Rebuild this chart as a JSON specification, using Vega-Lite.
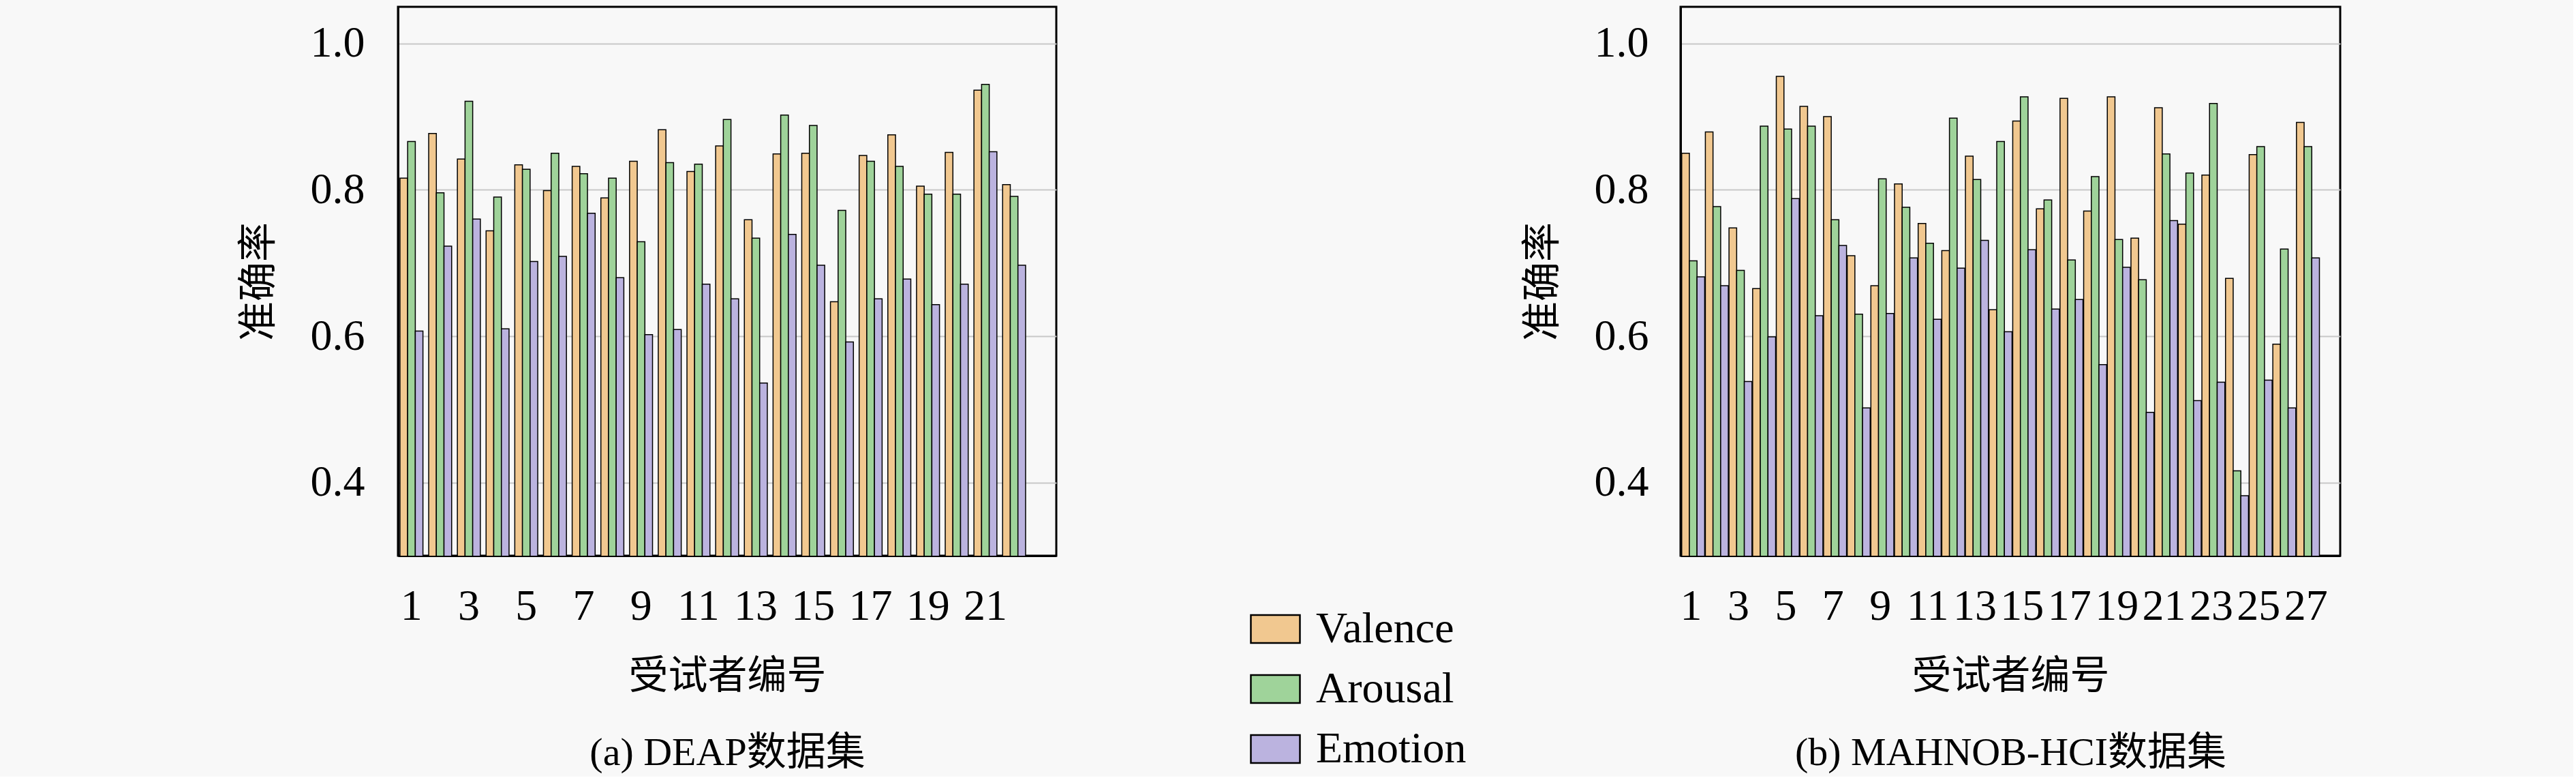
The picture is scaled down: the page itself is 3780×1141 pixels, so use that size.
{
  "$schema": "https://vega.github.io/schema/vega-lite/v6.json",
  "background": "#f8f8f8",
  "padding": {"left": 349, "top": 8, "right": 340, "bottom": 4},
  "spacing": 681,
  "data": {
    "values": [
      {"panel": "a", "subject": 1, "series": "Valence", "value": 0.816},
      {"panel": "a", "subject": 1, "series": "Arousal", "value": 0.866},
      {"panel": "a", "subject": 1, "series": "Emotion", "value": 0.607},
      {"panel": "a", "subject": 2, "series": "Valence", "value": 0.877},
      {"panel": "a", "subject": 2, "series": "Arousal", "value": 0.796},
      {"panel": "a", "subject": 2, "series": "Emotion", "value": 0.723},
      {"panel": "a", "subject": 3, "series": "Valence", "value": 0.842},
      {"panel": "a", "subject": 3, "series": "Arousal", "value": 0.921},
      {"panel": "a", "subject": 3, "series": "Emotion", "value": 0.760},
      {"panel": "a", "subject": 4, "series": "Valence", "value": 0.744},
      {"panel": "a", "subject": 4, "series": "Arousal", "value": 0.790},
      {"panel": "a", "subject": 4, "series": "Emotion", "value": 0.610},
      {"panel": "a", "subject": 5, "series": "Valence", "value": 0.834},
      {"panel": "a", "subject": 5, "series": "Arousal", "value": 0.828},
      {"panel": "a", "subject": 5, "series": "Emotion", "value": 0.702},
      {"panel": "a", "subject": 6, "series": "Valence", "value": 0.799},
      {"panel": "a", "subject": 6, "series": "Arousal", "value": 0.850},
      {"panel": "a", "subject": 6, "series": "Emotion", "value": 0.709},
      {"panel": "a", "subject": 7, "series": "Valence", "value": 0.832},
      {"panel": "a", "subject": 7, "series": "Arousal", "value": 0.822},
      {"panel": "a", "subject": 7, "series": "Emotion", "value": 0.768},
      {"panel": "a", "subject": 8, "series": "Valence", "value": 0.789},
      {"panel": "a", "subject": 8, "series": "Arousal", "value": 0.816},
      {"panel": "a", "subject": 8, "series": "Emotion", "value": 0.680},
      {"panel": "a", "subject": 9, "series": "Valence", "value": 0.839},
      {"panel": "a", "subject": 9, "series": "Arousal", "value": 0.729},
      {"panel": "a", "subject": 9, "series": "Emotion", "value": 0.602},
      {"panel": "a", "subject": 10, "series": "Valence", "value": 0.882},
      {"panel": "a", "subject": 10, "series": "Arousal", "value": 0.837},
      {"panel": "a", "subject": 10, "series": "Emotion", "value": 0.609},
      {"panel": "a", "subject": 11, "series": "Valence", "value": 0.825},
      {"panel": "a", "subject": 11, "series": "Arousal", "value": 0.835},
      {"panel": "a", "subject": 11, "series": "Emotion", "value": 0.671},
      {"panel": "a", "subject": 12, "series": "Valence", "value": 0.860},
      {"panel": "a", "subject": 12, "series": "Arousal", "value": 0.896},
      {"panel": "a", "subject": 12, "series": "Emotion", "value": 0.651},
      {"panel": "a", "subject": 13, "series": "Valence", "value": 0.759},
      {"panel": "a", "subject": 13, "series": "Arousal", "value": 0.734},
      {"panel": "a", "subject": 13, "series": "Emotion", "value": 0.536},
      {"panel": "a", "subject": 14, "series": "Valence", "value": 0.849},
      {"panel": "a", "subject": 14, "series": "Arousal", "value": 0.902},
      {"panel": "a", "subject": 14, "series": "Emotion", "value": 0.739},
      {"panel": "a", "subject": 15, "series": "Valence", "value": 0.850},
      {"panel": "a", "subject": 15, "series": "Arousal", "value": 0.888},
      {"panel": "a", "subject": 15, "series": "Emotion", "value": 0.697},
      {"panel": "a", "subject": 16, "series": "Valence", "value": 0.647},
      {"panel": "a", "subject": 16, "series": "Arousal", "value": 0.772},
      {"panel": "a", "subject": 16, "series": "Emotion", "value": 0.592},
      {"panel": "a", "subject": 17, "series": "Valence", "value": 0.847},
      {"panel": "a", "subject": 17, "series": "Arousal", "value": 0.839},
      {"panel": "a", "subject": 17, "series": "Emotion", "value": 0.651},
      {"panel": "a", "subject": 18, "series": "Valence", "value": 0.875},
      {"panel": "a", "subject": 18, "series": "Arousal", "value": 0.832},
      {"panel": "a", "subject": 18, "series": "Emotion", "value": 0.678},
      {"panel": "a", "subject": 19, "series": "Valence", "value": 0.805},
      {"panel": "a", "subject": 19, "series": "Arousal", "value": 0.794},
      {"panel": "a", "subject": 19, "series": "Emotion", "value": 0.643},
      {"panel": "a", "subject": 20, "series": "Valence", "value": 0.851},
      {"panel": "a", "subject": 20, "series": "Arousal", "value": 0.794},
      {"panel": "a", "subject": 20, "series": "Emotion", "value": 0.671},
      {"panel": "a", "subject": 21, "series": "Valence", "value": 0.936},
      {"panel": "a", "subject": 21, "series": "Arousal", "value": 0.944},
      {"panel": "a", "subject": 21, "series": "Emotion", "value": 0.852},
      {"panel": "a", "subject": 22, "series": "Valence", "value": 0.807},
      {"panel": "a", "subject": 22, "series": "Arousal", "value": 0.791},
      {"panel": "a", "subject": 22, "series": "Emotion", "value": 0.697},
      {"panel": "b", "subject": 1, "series": "Valence", "value": 0.850},
      {"panel": "b", "subject": 1, "series": "Arousal", "value": 0.703},
      {"panel": "b", "subject": 1, "series": "Emotion", "value": 0.681},
      {"panel": "b", "subject": 2, "series": "Valence", "value": 0.879},
      {"panel": "b", "subject": 2, "series": "Arousal", "value": 0.777},
      {"panel": "b", "subject": 2, "series": "Emotion", "value": 0.669},
      {"panel": "b", "subject": 3, "series": "Valence", "value": 0.748},
      {"panel": "b", "subject": 3, "series": "Arousal", "value": 0.690},
      {"panel": "b", "subject": 3, "series": "Emotion", "value": 0.538},
      {"panel": "b", "subject": 4, "series": "Valence", "value": 0.665},
      {"panel": "b", "subject": 4, "series": "Arousal", "value": 0.887},
      {"panel": "b", "subject": 4, "series": "Emotion", "value": 0.599},
      {"panel": "b", "subject": 5, "series": "Valence", "value": 0.955},
      {"panel": "b", "subject": 5, "series": "Arousal", "value": 0.883},
      {"panel": "b", "subject": 5, "series": "Emotion", "value": 0.788},
      {"panel": "b", "subject": 6, "series": "Valence", "value": 0.914},
      {"panel": "b", "subject": 6, "series": "Arousal", "value": 0.887},
      {"panel": "b", "subject": 6, "series": "Emotion", "value": 0.628},
      {"panel": "b", "subject": 7, "series": "Valence", "value": 0.900},
      {"panel": "b", "subject": 7, "series": "Arousal", "value": 0.759},
      {"panel": "b", "subject": 7, "series": "Emotion", "value": 0.724},
      {"panel": "b", "subject": 8, "series": "Valence", "value": 0.710},
      {"panel": "b", "subject": 8, "series": "Arousal", "value": 0.630},
      {"panel": "b", "subject": 8, "series": "Emotion", "value": 0.502},
      {"panel": "b", "subject": 9, "series": "Valence", "value": 0.669},
      {"panel": "b", "subject": 9, "series": "Arousal", "value": 0.815},
      {"panel": "b", "subject": 9, "series": "Emotion", "value": 0.631},
      {"panel": "b", "subject": 10, "series": "Valence", "value": 0.808},
      {"panel": "b", "subject": 10, "series": "Arousal", "value": 0.776},
      {"panel": "b", "subject": 10, "series": "Emotion", "value": 0.707},
      {"panel": "b", "subject": 11, "series": "Valence", "value": 0.754},
      {"panel": "b", "subject": 11, "series": "Arousal", "value": 0.727},
      {"panel": "b", "subject": 11, "series": "Emotion", "value": 0.623},
      {"panel": "b", "subject": 12, "series": "Valence", "value": 0.717},
      {"panel": "b", "subject": 12, "series": "Arousal", "value": 0.898},
      {"panel": "b", "subject": 12, "series": "Emotion", "value": 0.693},
      {"panel": "b", "subject": 13, "series": "Valence", "value": 0.846},
      {"panel": "b", "subject": 13, "series": "Arousal", "value": 0.814},
      {"panel": "b", "subject": 13, "series": "Emotion", "value": 0.731},
      {"panel": "b", "subject": 14, "series": "Valence", "value": 0.636},
      {"panel": "b", "subject": 14, "series": "Arousal", "value": 0.866},
      {"panel": "b", "subject": 14, "series": "Emotion", "value": 0.606},
      {"panel": "b", "subject": 15, "series": "Valence", "value": 0.894},
      {"panel": "b", "subject": 15, "series": "Arousal", "value": 0.927},
      {"panel": "b", "subject": 15, "series": "Emotion", "value": 0.718},
      {"panel": "b", "subject": 16, "series": "Valence", "value": 0.774},
      {"panel": "b", "subject": 16, "series": "Arousal", "value": 0.786},
      {"panel": "b", "subject": 16, "series": "Emotion", "value": 0.637},
      {"panel": "b", "subject": 17, "series": "Valence", "value": 0.925},
      {"panel": "b", "subject": 17, "series": "Arousal", "value": 0.704},
      {"panel": "b", "subject": 17, "series": "Emotion", "value": 0.650},
      {"panel": "b", "subject": 18, "series": "Valence", "value": 0.771},
      {"panel": "b", "subject": 18, "series": "Arousal", "value": 0.818},
      {"panel": "b", "subject": 18, "series": "Emotion", "value": 0.561},
      {"panel": "b", "subject": 19, "series": "Valence", "value": 0.927},
      {"panel": "b", "subject": 19, "series": "Arousal", "value": 0.732},
      {"panel": "b", "subject": 19, "series": "Emotion", "value": 0.694},
      {"panel": "b", "subject": 20, "series": "Valence", "value": 0.734},
      {"panel": "b", "subject": 20, "series": "Arousal", "value": 0.677},
      {"panel": "b", "subject": 20, "series": "Emotion", "value": 0.496},
      {"panel": "b", "subject": 21, "series": "Valence", "value": 0.912},
      {"panel": "b", "subject": 21, "series": "Arousal", "value": 0.849},
      {"panel": "b", "subject": 21, "series": "Emotion", "value": 0.758},
      {"panel": "b", "subject": 22, "series": "Valence", "value": 0.753},
      {"panel": "b", "subject": 22, "series": "Arousal", "value": 0.823},
      {"panel": "b", "subject": 22, "series": "Emotion", "value": 0.512},
      {"panel": "b", "subject": 23, "series": "Valence", "value": 0.820},
      {"panel": "b", "subject": 23, "series": "Arousal", "value": 0.918},
      {"panel": "b", "subject": 23, "series": "Emotion", "value": 0.537},
      {"panel": "b", "subject": 24, "series": "Valence", "value": 0.679},
      {"panel": "b", "subject": 24, "series": "Arousal", "value": 0.416},
      {"panel": "b", "subject": 24, "series": "Emotion", "value": 0.382},
      {"panel": "b", "subject": 25, "series": "Valence", "value": 0.848},
      {"panel": "b", "subject": 25, "series": "Arousal", "value": 0.859},
      {"panel": "b", "subject": 25, "series": "Emotion", "value": 0.540},
      {"panel": "b", "subject": 26, "series": "Valence", "value": 0.589},
      {"panel": "b", "subject": 26, "series": "Arousal", "value": 0.719},
      {"panel": "b", "subject": 26, "series": "Emotion", "value": 0.502},
      {"panel": "b", "subject": 27, "series": "Valence", "value": 0.892},
      {"panel": "b", "subject": 27, "series": "Arousal", "value": 0.859},
      {"panel": "b", "subject": 27, "series": "Emotion", "value": 0.707}
    ]
  },
  "config": {
    "font": "Liberation Serif, Noto Sans CJK SC",
    "view": {"stroke": "black", "strokeWidth": 3, "fill": "#f8f8f8"},
    "axis": {
      "labelFont": "Liberation Serif",
      "labelFontSize": 64,
      "labelColor": "black",
      "titleFont": "Liberation Serif, Noto Sans CJK SC",
      "titleFontSize": 58,
      "titleFontWeight": "normal",
      "titleColor": "black",
      "domainColor": "black",
      "domainWidth": 3,
      "ticks": false,
      "gridColor": "#c8c8c8",
      "gridWidth": 2
    },
    "legend": {
      "orient": "none",
      "legendX": 1250,
      "legendY": 875,
      "padding": 0,
      "symbolType": "M-1,-0.57H1V0.57H-1Z",
      "symbolSize": 5184,
      "symbolStrokeColor": "black",
      "symbolStrokeWidth": 2.5,
      "symbolOpacity": 1,
      "labelFont": "Liberation Serif",
      "labelFontSize": 64,
      "labelColor": "black",
      "labelLimit": 0,
      "labelOffset": 22,
      "rowPadding": 18
    }
  },
  "hconcat": [
    {
      "width": 966,
      "height": 805,
      "transform": [{"filter": "datum.panel == 'a'"}],
      "mark": {"type": "bar", "stroke": "black", "strokeWidth": 1.5, "clip": true},
      "encoding": {
        "x": {
          "field": "subject",
          "type": "ordinal",
          "scale": {"domain": [1, 2, 3, 4, 5, 6, 7, 8, 9, 10, 11, 12, 13, 14, 15, 16, 17, 18, 19, 20, 21, 22, 23], "paddingInner": 0.2, "paddingOuter": 0.07},
          "axis": {
            "values": [1, 3, 5, 7, 9, 11, 13, 15, 17, 19, 21],
            "labelAngle": 0,
            "labelPadding": 42,
            "labelOverlap": false,
            "title": ["受试者编号", "(a) DEAP数据集"],
            "titleLineHeight": 112,
            "titlePadding": 42
          }
        },
        "xOffset": {"field": "series", "type": "nominal", "scale": {"domain": ["Valence", "Arousal", "Emotion"]}},
        "y": {
          "field": "value",
          "type": "quantitative",
          "scale": {"domain": [0.3, 1.05], "nice": false, "zero": false},
          "axis": {"values": [0.4, 0.6, 0.8, 1.0], "format": ".1f", "labelPadding": 49, "title": "准确率", "titlePadding": 46}
        },
        "color": {
          "field": "series",
          "type": "nominal",
          "title": null,
          "scale": {"domain": ["Valence", "Arousal", "Emotion"], "range": ["#f1c890", "#9fd39a", "#bbb3df"]}
        }
      }
    },
    {
      "width": 968,
      "height": 805,
      "transform": [{"filter": "datum.panel == 'b'"}],
      "mark": {"type": "bar", "stroke": "black", "strokeWidth": 1.5, "clip": true},
      "encoding": {
        "x": {
          "field": "subject",
          "type": "ordinal",
          "scale": {"domain": [1, 2, 3, 4, 5, 6, 7, 8, 9, 10, 11, 12, 13, 14, 15, 16, 17, 18, 19, 20, 21, 22, 23, 24, 25, 26, 27, 28], "paddingInner": 0.2, "paddingOuter": 0.05},
          "axis": {
            "values": [1, 3, 5, 7, 9, 11, 13, 15, 17, 19, 21, 23, 25, 27],
            "labelAngle": 0,
            "labelPadding": 42,
            "labelOverlap": false,
            "title": ["受试者编号", "(b) MAHNOB-HCI数据集"],
            "titleLineHeight": 112,
            "titlePadding": 42
          }
        },
        "xOffset": {"field": "series", "type": "nominal", "scale": {"domain": ["Valence", "Arousal", "Emotion"]}},
        "y": {
          "field": "value",
          "type": "quantitative",
          "scale": {"domain": [0.3, 1.05], "nice": false, "zero": false},
          "axis": {"values": [0.4, 0.6, 0.8, 1.0], "format": ".1f", "labelPadding": 47, "title": "准确率", "titlePadding": 46}
        },
        "color": {
          "field": "series",
          "type": "nominal",
          "title": null,
          "scale": {"domain": ["Valence", "Arousal", "Emotion"], "range": ["#f1c890", "#9fd39a", "#bbb3df"]}
        }
      }
    }
  ]
}
